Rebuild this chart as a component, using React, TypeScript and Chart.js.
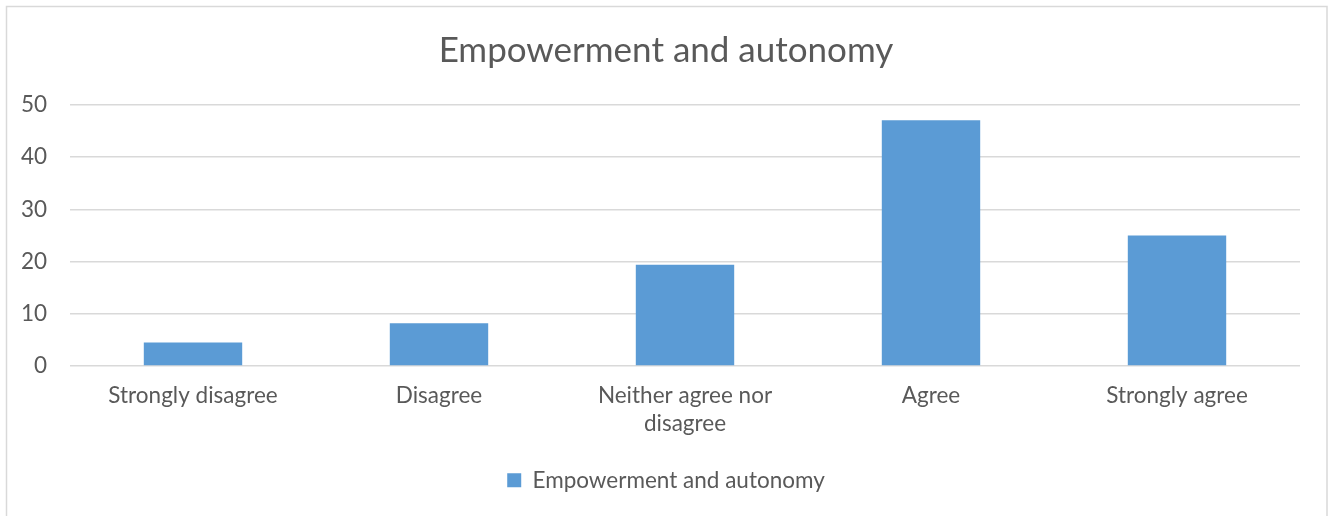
import React, { useEffect, useRef } from "react";
import { Chart, registerables } from "chart.js";

Chart.register(...registerables);

// ---- data ----
const categories: (string | string[])[] = [
  "Strongly disagree",
  "Disagree",
  ["Neither agree nor", "disagree"],
  "Agree",
  "Strongly agree",
];
const seriesName = "Empowerment and autonomy";
const seriesValues = [4.5, 8.2, 19.4, 47.1, 25.0];
const chartTitle = "Empowerment and autonomy";
const yMin = 0;
const yMax = 50;
const yStep = 10;

// ---- style ----
const FONT = "Lato, 'Open Sans', sans-serif";
const TEXT = "#595959";
const GRID = "#d9d9d9";
const BAR = "#5b9bd5";
const W = 1332;
const H = 516;

const frame = {
  id: "frame",
  beforeDraw(chart: any) {
    const ctx = chart.ctx;
    ctx.save();
    ctx.fillStyle = "#ffffff";
    ctx.fillRect(0, 0, chart.width, chart.height);
    ctx.strokeStyle = GRID;
    ctx.lineWidth = 1.5;
    ctx.strokeRect(6.5, 6.5, 1320.5, 600);
    ctx.restore();
  },
};

export default function App() {
  const ref = useRef<HTMLCanvasElement | null>(null);

  useEffect(() => {
    if (!ref.current) return;
    const chart = new Chart(ref.current, {
      type: "bar",
      data: {
        labels: categories as any,
        datasets: [
          {
            label: seriesName,
            data: seriesValues,
            backgroundColor: BAR,
            borderWidth: 0,
            categoryPercentage: 1,
            barPercentage: 0.4,
          },
        ],
      },
      options: {
        animation: false,
        responsive: false,
        devicePixelRatio: 1,
        layout: { padding: { left: 0, right: 0, top: 0, bottom: 14.5 } },
        plugins: {
          title: {
            display: true,
            text: chartTitle,
            color: TEXT,
            font: { family: FONT, size: 35, weight: "normal", lineHeight: 1.2 },
            padding: { top: 30, bottom: 33 },
          },
          legend: {
            display: true,
            position: "bottom",
            labels: {
              boxWidth: 14,
              boxHeight: 14,
              padding: 10,
              color: TEXT,
              font: { family: FONT, size: 22.5 },
            },
          },
          tooltip: { enabled: false },
        },
        scales: {
          x: {
            grid: { display: false, drawTicks: false },
            border: { display: false },
            ticks: {
              color: TEXT,
              padding: 15,
              maxRotation: 0,
              autoSkip: false,
              font: { family: FONT, size: 22.5, lineHeight: 1.27 },
            },
            afterFit: (s: any) => {
              s.height = 93;
            },
          },
          y: {
            min: yMin,
            max: yMax,
            grid: { color: GRID, lineWidth: 1.5, drawTicks: false },
            border: { display: false },
            ticks: {
              stepSize: yStep,
              color: TEXT,
              padding: 23,
              font: { family: FONT, size: 22.5 },
            },
            afterFit: (s: any) => {
              s.width = 70;
            },
          },
          yRightSpacer: {
            type: "linear",
            position: "right",
            display: true,
            grid: { display: false, drawTicks: false },
            border: { display: false },
            ticks: { display: false },
            afterFit: (s: any) => {
              s.width = 32;
            },
          },
        },
      },
      plugins: [frame],
    });
    return () => chart.destroy();
  }, []);

  return (
    <div style={{ position: "absolute", left: 0, top: 0, width: W, height: H, background: "#fff" }}>
      <canvas ref={ref} width={W} height={H} style={{ display: "block" }} />
    </div>
  );
}
